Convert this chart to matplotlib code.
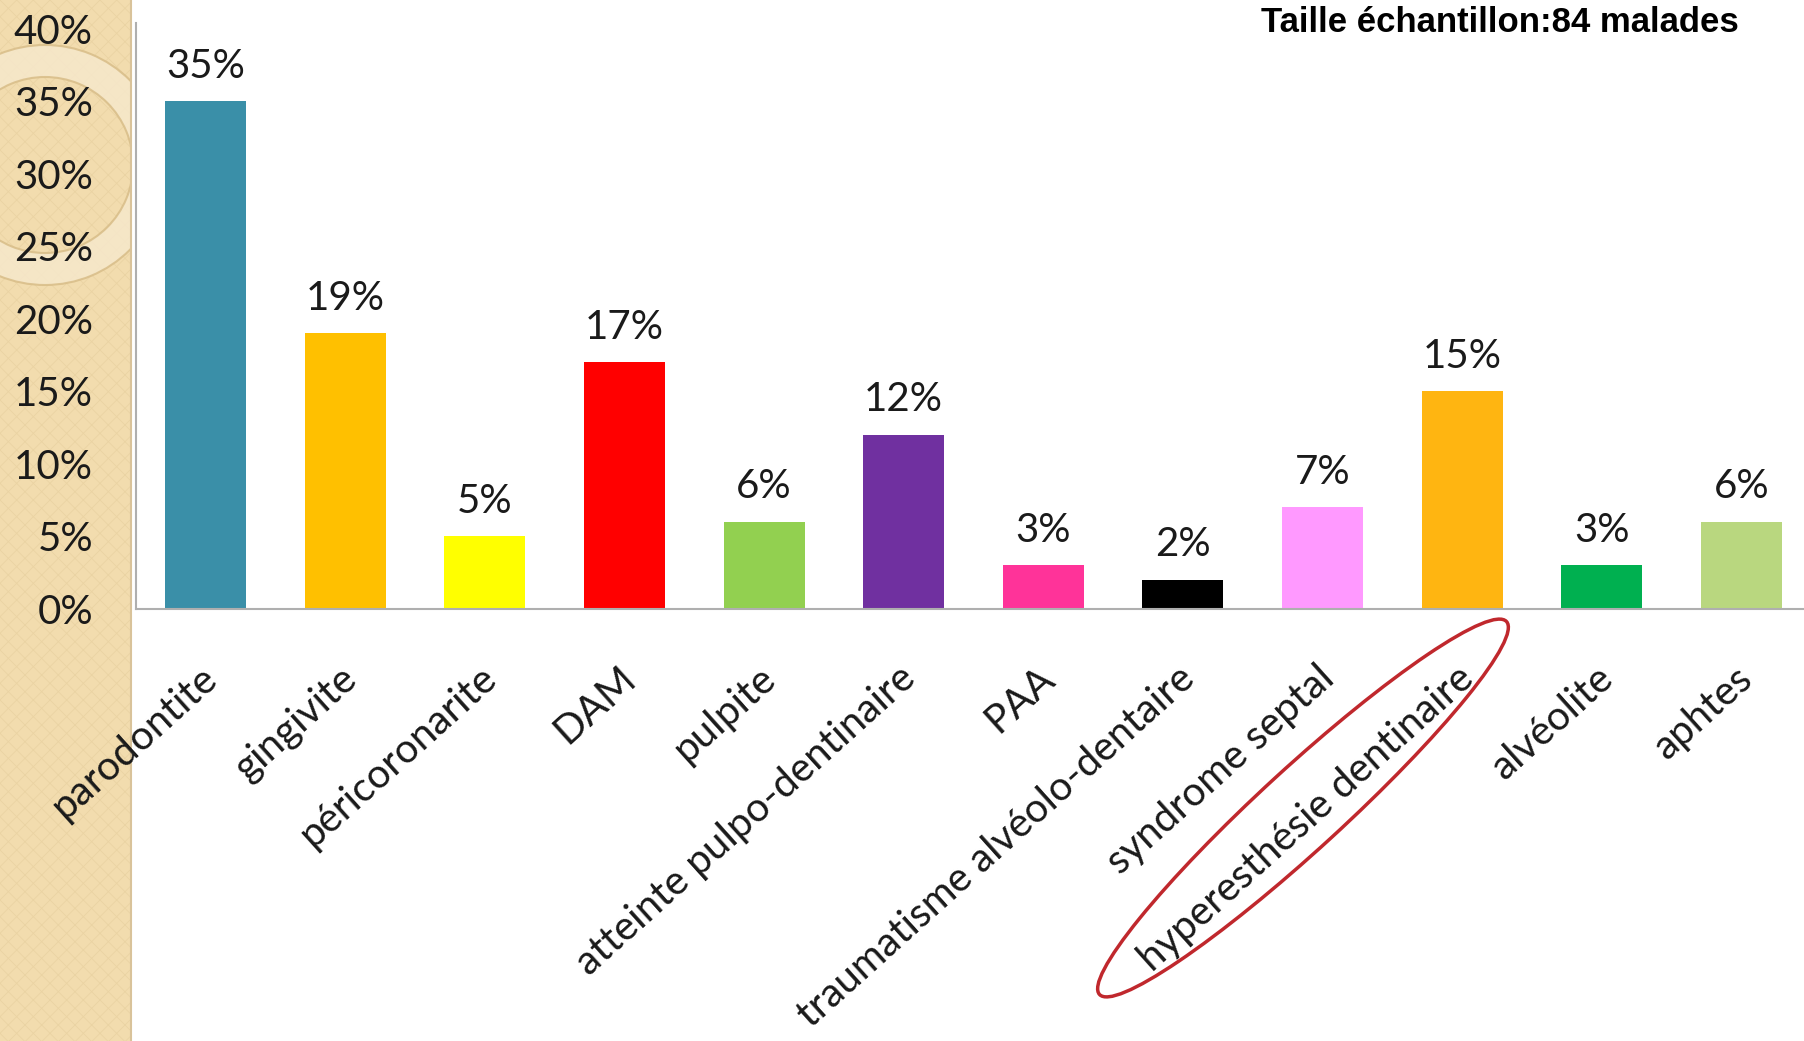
import matplotlib
matplotlib.use('Agg')
import matplotlib.pyplot as plt
from matplotlib.patches import Rectangle, Ellipse, Wedge
from matplotlib.transforms import ScaledTranslation

# Data
categories = ['parodontite', 'gingivite', 'péricoronarite', 'DAM', 'pulpite',
              'atteinte pulpo-dentinaire', 'PAA', 'traumatisme alvéolo-dentaire',
              'syndrome septal', 'hyperesthésie dentinaire', 'alvéolite', 'aphtes']
values = [35, 19, 5, 17, 6, 12, 3, 2, 7, 15, 3, 6]
colors = ['#3A8FA8', '#FFC000', '#FFFF00', '#FF0000', '#92D050', '#7030A0',
          '#FF3399', '#000000', '#FF99FF', '#FFB511', '#00B050', '#B9D77F']
y_ticks = [0, 5, 10, 15, 20, 25, 30, 35, 40]
note = 'Taille échantillon:84 malades'

W, H = 1804, 1041
fig = plt.figure(figsize=(W / 100, H / 100), dpi=100)
fig.patch.set_facecolor('white')

# background layer in pixel coordinates (strip + ring + ellipse)
bg = fig.add_axes([0, 0, 1, 1])
bg.set_xlim(0, W)
bg.set_ylim(H, 0)
bg.axis('off')
bg.set_zorder(-1)
plt.rcParams['hatch.linewidth'] = 0.6
strip = Rectangle((0, 0), 131, H, facecolor='#F2DCAE', edgecolor='#EAD3A3',
                  hatch='xx', linewidth=0)
bg.add_patch(strip)
ring = Wedge((45, 165), 120, 0, 360, width=32, facecolor='#F6E8CB',
             edgecolor='#D8BD88', linewidth=1.5, alpha=0.85)
bg.add_patch(ring)
ring.set_clip_path(strip)
bg.add_line(plt.Line2D([131, 131], [0, H], color='#D9C39A', linewidth=1.5))
bg.add_patch(Ellipse((1303, 808), 552, 82, angle=-42.5, facecolor='none',
                     edgecolor='#C0282D', linewidth=2.5))

# main chart
ax = fig.add_axes([136 / W, 1 - 609 / H, 1 - 136 / W, (609 - 23) / H])
ax.set_facecolor('none')
x = list(range(len(categories)))
ax.bar(x, values, width=0.58, color=colors)
ax.set_xlim(-0.5, 11.45)
ax.set_ylim(0, 40.4)

label_font = 'Lato'
ax.set_yticks(y_ticks)
ax.set_yticklabels([f'{t}%' for t in y_ticks], fontsize=29, family=label_font,
                   color='#1A1A1A')
ax.tick_params(axis='y', length=0, pad=31)
ax.tick_params(axis='x', length=0, pad=46)
ax.set_xticks(x)
ax.set_xticklabels(categories, rotation=42, ha='right', va='center',
                   rotation_mode='anchor', fontsize=29, family=label_font,
                   color='#1A1A1A')
shift = ScaledTranslation(6 / 100, 0, fig.dpi_scale_trans)
for lab in ax.get_xticklabels():
    lab.set_transform(lab.get_transform() + shift)

for s in ['top', 'right']:
    ax.spines[s].set_visible(False)
for s in ['left', 'bottom']:
    ax.spines[s].set_color('#AFAFAF')
    ax.spines[s].set_linewidth(1.5)

for xi, v in zip(x, values):
    ax.annotate(f'{v}%', (xi, v), xytext=(0, 12), textcoords='offset points',
                ha='center', va='bottom', fontsize=29, family=label_font,
                color='#1A1A1A')

fig.text(1500 / W, 1 - 23 / H, note, ha='center', va='center', fontsize=25,
         fontweight='bold', family='Liberation Sans', color='black')

fig.savefig('out.png', dpi=100)
